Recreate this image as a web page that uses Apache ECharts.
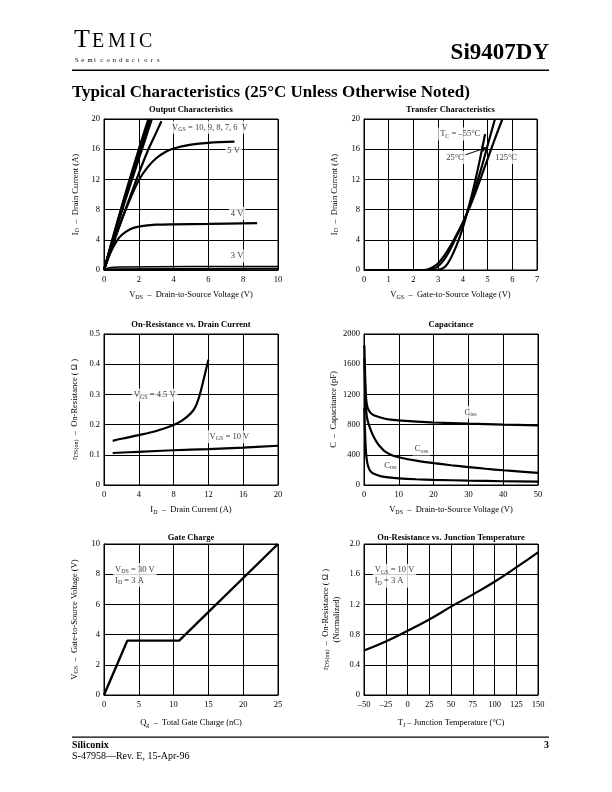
<!DOCTYPE html>
<html><head><meta charset="utf-8">
<script src="https://cdn.jsdelivr.net/npm/echarts@6/dist/echarts.min.js"></script>
<style>html,body{margin:0;padding:0;background:#fff}#c{width:612px;height:792px}</style>
</head><body><div id="c"></div>
<script>
// ---------- DATA ----------
// Output characteristics: [V_DS, I_D]
const outVgs10 = [[0,0],[0.5,4.2],[1,8.3],[1.5,12.2],[2,16],[2.55,20]];
const outVgs9  = [[0,0],[0.5,4.1],[1,8.1],[1.5,11.9],[2,15.6],[2.6,20]];
const outVgs8  = [[0,0],[0.5,4.0],[1,7.9],[1.5,11.6],[2,15.2],[2.65,20]];
const outVgs7  = [[0,0],[0.5,3.9],[1,7.6],[1.5,11.2],[2,14.7],[2.75,20]];
const outVgs6  = [[0,0],[0.5,3.3],[1,6.5],[1.5,9.7],[2,12.8],[2.5,15.7],[3,18.2],[3.3,19.7]];
const outVgs5  = [[0,0],[0.5,3.4],[1,6.6],[1.5,9.4],[2,11.9],[2.5,13.6],[3,14.8],[3.5,15.6],[4,16.1],[5,16.6],[6,16.85],[7.5,17.0]];
const outVgs4  = [[0,0],[0.25,1.6],[0.5,2.9],[0.75,3.9],[1,4.6],[1.5,5.4],[2,5.75],[2.5,5.9],[3,6.0],[4,6.05],[6,6.1],[8.8,6.2]];
const outVgs3  = [[0,0],[0.3,0.3],[1,0.4],[5,0.45],[10,0.45]];
const outVgsLow = [[0,0],[0.3,0.1],[10,0.15]];
// Transfer characteristics: [V_GS, I_D]
const trM55 = [[0,0],[2.9,0],[3.1,0.1],[3.3,0.5],[3.5,1.5],[3.75,3.3],[4,5.6],[4.25,8.5],[4.5,11.8],[4.7,14.8],[4.9,18]];
const tr25  = [[0,0],[2.6,0],[2.8,0.1],[3,0.5],[3.25,1.4],[3.5,2.8],[3.75,4.5],[4,6.2],[4.25,8.3],[4.5,10.8],[4.75,13.5],[5,16.5],[5.3,20]];
const tr125 = [[0,0],[2.4,0],[2.6,0.1],[2.8,0.4],[3,0.9],[3.25,1.9],[3.5,3.2],[3.75,4.7],[4,6.3],[4.25,8.1],[4.5,10.2],[4.75,12.4],[5,14.7],[5.3,17.4],[5.6,20]];
// On-resistance vs drain current: [I_D, r_DS(on)]
const ronVgs45 = [[1,0.146],[2,0.153],[4,0.165],[6,0.179],[8,0.199],[9,0.214],[10,0.238],[10.5,0.258],[11,0.298],[11.5,0.355],[12,0.415]];
const ronVgs10 = [[1,0.106],[4,0.110],[8,0.115],[12,0.119],[16,0.124],[20,0.130]];
// Capacitance: [V_DS, pF]
const cIss = [[0.1,1850],[0.3,1500],[0.6,1150],[1,1030],[1.5,980],[2,950],[3,920],[5,890],[7,870],[10,855],[15,840],[20,828],[30,812],[40,800],[50,790]];
const cOss = [[0.1,1680],[0.3,1300],[0.6,1000],[1,860],[2,720],[3,620],[4,545],[5,490],[6,445],[8,395],[10,368],[15,322],[20,290],[25,262],[30,238],[35,215],[40,195],[45,178],[50,160]];
const cRss = [[0.1,1020],[0.3,700],[0.6,420],[1,280],[1.5,210],[2,175],[3,145],[5,115],[7,100],[10,88],[15,76],[20,68],[30,58],[40,50],[50,45]];
// Gate charge: [Qg, V_GS]
const gateQ = [[0,0],[3.35,3.6],[10.8,3.6],[25,10]];
// On-resistance vs junction temperature: [T_J, normalized r]
const ronTj = [[-50,0.59],[-25,0.71],[0,0.85],[25,1.0],[50,1.17],[75,1.33],[100,1.5],[125,1.69],[150,1.89]];

// tick ranges
const outX = {min:0,max:10,interval:2},  outY = {min:0,max:20,interval:4};
const trX  = {min:0,max:7,interval:1},   trY  = {min:0,max:20,interval:4};
const ronX = {min:0,max:20,interval:4},  ronY = {min:0,max:0.5,interval:0.1};
const capX = {min:0,max:50,interval:10}, capY = {min:0,max:2000,interval:400};
const gX   = {min:0,max:25,interval:5},  gY   = {min:0,max:10,interval:2};
const tjX  = {min:-50,max:150,interval:25}, tjY = {min:0,max:2,interval:0.4};

// ---------- CHART ----------
const FF = '"Liberation Serif","Times New Roman",serif';
const chart = echarts.init(document.getElementById('c'), null, {renderer:'canvas'});
const grids = [
  {left:104, top:119, width:174, height:151},
  {left:364, top:119, width:173, height:151},
  {left:104, top:334, width:174, height:151},
  {left:364, top:334, width:174, height:151},
  {left:104, top:544, width:174, height:151},
  {left:364, top:544, width:174, height:151}
].map(g => Object.assign({show:true, borderColor:'#000', borderWidth:1, backgroundColor:'#fff'}, g));

const RICH = {
  s: {fontSize:6, fontFamily:FF, color:'#000', padding:[4,0,0,0]},
  m: {fontSize:8.5, fontFamily:FF, color:'#000'}
};
function numFmt(dec){ return v => (v===0 ? '0' : (dec ? v.toFixed(dec) : String(v)).replace('-', '\u2013')); }
function xAxis(gi, r, name, gap, fmt){
  return Object.assign({type:'value', gridIndex:gi, name, nameLocation:'middle', nameGap:gap,
    nameTextStyle:{fontFamily:FF, fontSize:8.5, color:'#000', rich:RICH},
    axisLine:{lineStyle:{color:'#000', width:1}}, axisTick:{show:false},
    splitLine:{show:true, lineStyle:{color:'#000', width:1}},
    axisLabel:{color:'#000', fontFamily:FF, fontSize:8.5, margin:5, formatter:fmt||numFmt(0)}}, r);
}
function yAxis(gi, r, name, gap, fmt){
  return Object.assign({type:'value', gridIndex:gi, name, nameLocation:'middle', nameGap:gap, nameRotate:90,
    nameTextStyle:{fontFamily:FF, fontSize:8.5, color:'#000', rich:RICH, lineHeight:11},
    axisLine:{lineStyle:{color:'#000', width:1}}, axisTick:{show:false},
    splitLine:{show:true, lineStyle:{color:'#000', width:1}},
    axisLabel:{color:'#000', fontFamily:FF, fontSize:8.5, margin:4, formatter:fmt||numFmt(0)}}, r);
}
function line(gi, data, opt){
  return Object.assign({type:'line', xAxisIndex:gi, yAxisIndex:gi, data, symbol:'none', smooth:0.35,
    lineStyle:{color:'#000', width:2.2}, z:3, silent:true, animation:false}, opt||{});
}
function note(gi, pt, text, pos){
  return {type:'scatter', xAxisIndex:gi, yAxisIndex:gi, data:[pt], symbolSize:0, z:6, silent:true, animation:false,
    label:{show:true, position:pos||'inside', distance:0, formatter:text, color:'#000', fontFamily:FF, fontSize:8.5,
      backgroundColor:'#fff', padding:[1,2], lineHeight:11, align:'left', rich:RICH}};
}
function noteC(gi, pt, text){
  const n = note(gi, pt, text, 'inside'); n.label.align = 'center'; return n;
}

const xAxes = [
  xAxis(0, outX, '{m|V}{s|DS}{m|  \u2013  Drain-to-Source Voltage (V)}', 20),
  xAxis(1, trX,  '{m|V}{s|GS}{m|  \u2013  Gate-to-Source Voltage (V)}', 20),
  xAxis(2, ronX, '{m|I}{s|D}{m|  \u2013  Drain Current (A)}', 20),
  xAxis(3, capX, '{m|V}{s|DS}{m|  \u2013  Drain-to-Source Voltage (V)}', 20),
  xAxis(4, gX,   '{m|Q}{s|g}{m|  \u2013  Total Gate Charge (nC)}', 23),
  xAxis(5, tjX,  '{m|T}{s|J}{m| \u2013 Junction Temperature (\u00b0C)}', 23)
];
const yAxes = [
  yAxis(0, outY, '{m|I}{s|D}{m|  \u2013  Drain Current (A)}', 23),
  yAxis(1, trY,  '{m|I}{s|D}{m|  \u2013  Drain Current (A)}', 24),
  yAxis(2, ronY, '{m|r}{s|DS(on)}{m|  \u2013  On-Resistance ( \u03a9 )}', 24, numFmt(1)),
  yAxis(3, capY, '{m|C  \u2013  Capacitance (pF)}', 25),
  yAxis(4, gY,   '{m|V}{s|GS}{m|  \u2013  Gate-to-Source Voltage (V)}', 24),
  yAxis(5, tjY,  '{m|r}{s|DS(on)}{m|  \u2013  On-Resistance ( \u03a9 )}\n{m|(Normalized)}', 22, numFmt(1))
];

const series = [
  line(0, outVgs10), line(0, outVgs9), line(0, outVgs8), line(0, outVgs7), line(0, outVgs6),
  line(0, outVgs5), line(0, outVgs4), line(0, outVgs3, {lineStyle:{color:'#000', width:1.5}}), line(0, outVgsLow, {lineStyle:{color:'#000', width:2}}),
  note(0, [3.8, 18.9], '{m|V}{s|GS}{m| = 10, 9, 8, 7, 6  V}', 'right'),
  noteC(0, [7.45, 15.8], '{m|5 V}'),
  noteC(0, [7.65, 7.5], '{m|4 V}'),
  noteC(0, [7.65, 1.85], '{m|3 V}'),

  line(1, trM55), line(1, tr25), line(1, tr125,
    {markLine:{silent:true, symbol:['none','arrow'], symbolSize:5, label:{show:false},
      lineStyle:{color:'#000', width:1, type:'solid'},
      data:[[{coord:[4.05,15.2]},{coord:[4.95,16.2]}]]}}),
  note(1, [3.0, 18.0], '{m|T}{s|C}{m| = \u201355\u00b0C}', 'right'),
  noteC(1, [3.68, 14.9], '{m|25\u00b0C}'),
  noteC(1, [5.75, 14.9], '{m|125\u00b0C}'),

  line(2, ronVgs45), line(2, ronVgs10),
  note(2, [3.2, 0.298], '{m|V}{s|GS}{m| = 4.5 V}', 'right'),
  note(2, [11.9, 0.16], '{m|V}{s|GS}{m| = 10 V}', 'right'),

  line(3, cIss), line(3, cOss), line(3, cRss),
  noteC(3, [30.6, 963], '{m|C}{s|iss}'),
  noteC(3, [16.5, 477], '{m|C}{s|oss}'),
  noteC(3, [7.6, 256], '{m|C}{s|rss}'),

  line(4, gateQ, {smooth:false, lineStyle:{color:'#000', width:2.4}}),
  note(4, [1.3, 7.95], '{m|V}{s|DS}{m| = 30 V}\n{m|I}{s|D}{m| = 3 A}', 'right'),

  line(5, ronTj, {smooth:0.5}),
  note(5, [-40, 1.58], '{m|V}{s|GS}{m| = 10 V}\n{m|I}{s|D}{m| = 3 A}', 'right')
];

function gtext(x, y, text, font, align, va){
  return {type:'text', x, y, silent:true, style:{text, fill:'#000', font, align:align||'left', textAlign:align||'left',
    verticalAlign:va||'middle', textVerticalAlign:va||'middle'}};
}
const chartTitles = ['Output Characteristics','Transfer Characteristics','On-Resistance vs. Drain Current',
  'Capacitance','Gate Charge','On-Resistance vs. Junction Temperature'];
const titleY = [110, 110, 325, 325, 537.5, 537.5];
const graphics = [];
chartTitles.forEach((t,i) => {
  const g = grids[i];
  graphics.push(gtext(g.left + g.width/2, titleY[i], t, 'bold 8.5px ' + FF, 'center'));
});
// header
graphics.push(gtext(74, 40, 'T', '26px ' + FF, 'left'));
[['E',92],['M',108],['I',129],['C',139]].forEach(([c,x]) => graphics.push(gtext(x, 41.5, c, '20px ' + FF, 'left')));
'Semiconductors'.split('').forEach((c,i) => graphics.push(gtext(75 + i*6.3, 60.5, c, '6.5px ' + FF, 'left')));
graphics.push(gtext(549, 53, 'Si9407DY', 'bold 23px ' + FF, 'right'));
graphics.push({type:'rect', shape:{x:72, y:69.5, width:477, height:1.5}, style:{fill:'#000'}, silent:true});
graphics.push(gtext(72, 93, 'Typical Characteristics (25\u00b0C Unless Otherwise Noted)', 'bold 17px ' + FF, 'left'));
// footer
graphics.push({type:'rect', shape:{x:72, y:736.5, width:477, height:1.2}, style:{fill:'#000'}, silent:true});
graphics.push(gtext(72, 745, 'Siliconix', 'bold 10px ' + FF, 'left'));
graphics.push(gtext(72, 756.5, 'S-47958\u2014Rev. E, 15-Apr-96', '10px ' + FF, 'left'));
graphics.push(gtext(549, 745, '3', 'bold 10px ' + FF, 'right'));

chart.setOption({
  animation:false,
  backgroundColor:'#fff',
  grid: grids,
  xAxis: xAxes,
  yAxis: yAxes,
  series,
  graphic: graphics
});
</script>
</body></html>
